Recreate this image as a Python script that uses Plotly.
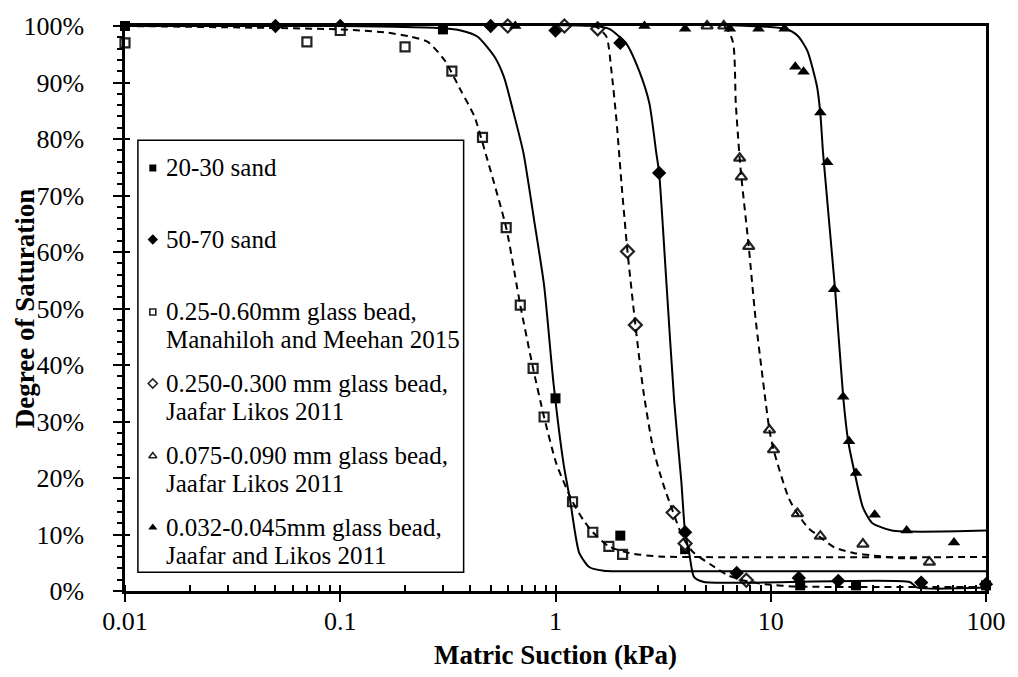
import plotly.graph_objects as go

# ---------------- measured data (suction in kPa, saturation in %) ----------------
sand_20_30_x = [0.01, 0.3, 1.0, 2.0, 4.0, 13.7, 24.9, 100]
sand_20_30_y = [100, 99.4, 34.1, 9.8, 7.4, 1.0, 1.0, 1.0]

sand_50_70_x = [0.05, 0.1, 0.5, 1.0, 2.0, 3.03, 4.0, 6.95, 13.5, 20.6, 50, 100]
sand_50_70_y = [100, 100, 100, 99.2, 97, 74, 10.4, 3.2, 2.3, 1.8, 1.5, 1.2]

gb_025_060_x = [0.01, 0.07, 0.1, 0.2, 0.33, 0.458, 0.59, 0.686, 0.787, 0.885, 1.2, 1.49, 1.77, 2.05]
gb_025_060_y = [97, 97.2, 99.2, 96.3, 92, 80.3, 64.3, 50.6, 39.4, 30.8, 15.8, 10.4, 7.9, 6.5]

gb_0250_0300_x = [0.6, 1.1, 1.57, 2.16, 2.35, 3.52, 4.0, 7.7]
gb_0250_0300_y = [100, 100, 99.5, 60.1, 47.1, 13.9, 8.4, 1.9]

gb_0075_0090_x = [5.06, 6.05, 7.17, 7.3, 7.9, 9.86, 10.3, 13.3, 17, 26.8, 54.6]
gb_0075_0090_y = [100, 100, 76.6, 73.3, 61, 28.5, 25, 13.7, 9.7, 8.3, 5.1]

gb_0032_0045_x = [0.65, 2.59, 4.0, 6.46, 8.77, 11.6, 13.0, 14.2, 17.0, 18.3, 19.7, 21.7, 23.1, 24.9, 30.4, 42.8, 71]
gb_0032_0045_y = [100, 100, 99.5, 99.5, 99.5, 99.5, 92.8, 91.9, 84.7, 75.9, 53.4, 34.4, 26.5, 20.9, 13.5, 10.7, 8.6]

# ---------------- fitted retention curves ----------------
fit_20_30_x = [0.01, 0.1, 0.3, 0.363, 0.435, 0.52, 0.576, 0.64, 0.71, 0.795, 0.885, 0.98,
               1.09, 1.17, 1.29, 1.44, 1.67, 2.5, 100]
fit_20_30_y = [100, 100, 99.6, 99.2, 98.1, 94.6, 91, 84.5, 77.5, 65.7, 54.1, 36.6,
               22.5, 16, 6.7, 4.2, 3.6, 3.5, 3.5]

fit_025_060_x = [0.01, 0.1, 0.167, 0.213, 0.255, 0.306, 0.363, 0.42, 0.473, 0.59, 0.686, 0.787,
                 0.885, 1.01, 1.2, 1.35, 1.49, 1.77, 2.21, 3.03, 5, 100]
fit_025_060_y = [100, 99.4, 98.8, 98.1, 97.2, 93.9, 88.6, 84, 77.5, 64.3, 50.6, 39.4,
                 30.8, 22.5, 15.8, 12.5, 10.4, 7.9, 6.7, 6.1, 6.0, 6.0]

fit_50_70_x = [0.01, 1.5, 1.78, 2.14, 2.45, 2.73, 2.94, 3.03, 3.27, 3.56, 3.84, 4.0, 4.18,
               4.4, 4.9, 44.2, 48, 100]
fit_50_70_y = [100, 100, 99.5, 96.8, 92, 86.3, 77.5, 74, 55, 33.6, 19.5, 10.4, 6.7,
               2.5, 1.6, 1.6, 0.6, 0.6]

fit_0250_0300_x = [0.01, 1.5, 1.6, 1.73, 1.82, 1.92, 2.03, 2.16, 2.35, 2.56, 2.84, 3.16, 3.5,
                   3.9, 4.35, 5.3, 6.3, 7.6, 9.4, 13, 100]
fit_0250_0300_y = [100, 100, 99.5, 98, 92, 83.3, 71.7, 60.1, 47.1, 35.4, 25.3, 19, 14.2,
                   9.5, 6.9, 4.6, 2.8, 1.8, 1.2, 0.8, 0.7]

fit_0075_0090_x = [0.01, 6.05, 6.67, 6.88, 7.17, 7.3, 7.9, 8.5, 9.46, 9.86, 10.3, 12.1, 13.3,
                   14.9, 17, 19.8, 24.5, 29.5, 40.6, 50]
fit_0075_0090_y = [100, 100, 97.2, 86.3, 76.6, 73.3, 61, 48.2, 33.6, 28.5, 25, 16.5, 13.7,
                   11.2, 9.5, 7.7, 6.7, 6.3, 5.8, 5.8]

fit_0032_0045_x = [0.01, 11.7, 13.4, 14.8, 16.4, 17, 17.5, 19.9, 21.7, 22.9, 24.6, 26.8,
                   29.5, 36.5, 100]
fit_0032_0045_y = [100, 99.5, 98.2, 95.6, 89.3, 84.5, 77.5, 53.4, 34.4, 26.5, 20.7, 14.8,
                   12.1, 10.7, 10.7]

legend_lines = [
    ["20-30 sand"],
    ["50-70 sand"],
    ["0.25-0.60mm glass bead,", "Manahiloh and Meehan 2015"],
    ["0.250-0.300 mm glass bead,", "Jaafar Likos 2011"],
    ["0.075-0.090 mm glass bead,", "Jaafar Likos 2011"],
    ["0.032-0.045mm glass bead,", "Jaafar and Likos 2011"],
]

y_ticks = list(range(0, 101, 10))
y_tick_text = [f"{v}%" for v in y_ticks]

# ---------------- styling ----------------
FONT = "Liberation Serif"
INK = "black"
W, H = 1018, 677
ML, MR, MT, MB = 125, 26, 22, 86
PW, PH = W - ML - MR, H - MT - MB

filled = dict(color=INK, line=dict(width=0))
hollow = dict(color="white", line=dict(color="#222", width=2.2))

series = [
    (sand_20_30_x, sand_20_30_y, "square", 10, filled, 7),
    (sand_50_70_x, sand_50_70_y, "diamond", 11, filled, 8),
    (gb_025_060_x, gb_025_060_y, "square", 9, hollow, 6),
    (gb_0250_0300_x, gb_0250_0300_y, "diamond", 10, hollow, 7),
    (gb_0075_0090_x, gb_0075_0090_y, "triangle-up", 10, hollow, 7),
    (gb_0032_0045_x, gb_0032_0045_y, "triangle-up", 11, filled, 8),
]

fits = [
    (fit_20_30_x, fit_20_30_y, "solid"),
    (fit_025_060_x, fit_025_060_y, "dash"),
    (fit_50_70_x, fit_50_70_y, "solid"),
    (fit_0250_0300_x, fit_0250_0300_y, "dash"),
    (fit_0075_0090_x, fit_0075_0090_y, "dash"),
    (fit_0032_0045_x, fit_0032_0045_y, "solid"),
]

fig = go.Figure()

for xs, ys, sym, size, style, _ in series:
    fig.add_trace(go.Scatter(
        x=xs, y=ys, mode="markers", cliponaxis=False, showlegend=False,
        marker=dict(symbol=sym, size=size, **style),
    ))

for xs, ys, dash in fits:
    fig.add_trace(go.Scatter(
        x=xs, y=ys, mode="lines", cliponaxis=False, showlegend=False,
        line=dict(color=INK, width=2, dash="7px,5px" if dash == "dash" else "solid",
                  shape="spline", smoothing=0.6),
    ))

# companion axes carrying the inward half of the major ticks
fig.add_trace(go.Scatter(x=[], y=[], xaxis="x2", yaxis="y2", showlegend=False))

# ---------------- legend box (pixel layout) ----------------
box_l, box_t, box_r, box_b = 138, 137, 466, 572
first_line_y = [165, 237, 310, 382, 455, 527]
line_gap = 28
mark_px, text_px = 153, 164


def px_x(p):
    return (p - ML) / PW


def px_y(p):
    return (MT + PH - p) / PH


fig.add_shape(type="rect", xref="paper", yref="paper", layer="below",
              x0=px_x(box_l), x1=px_x(box_r), y0=px_y(box_b), y1=px_y(box_t),
              line=dict(color=INK, width=1.5), fillcolor="white")

annotations = []
for (_, _, sym, _, style, lsize), lines, y0 in zip(series, legend_lines, first_line_y):
    fig.add_trace(go.Scatter(
        x=[mark_px], y=[y0], xaxis="x3", yaxis="y3", mode="markers", showlegend=False,
        cliponaxis=False,
        marker=dict(symbol=sym, size=lsize,
                    color=style["color"],
                    line=dict(color=style["line"].get("color", INK),
                              width=1.6 if style is hollow else 0)),
    ))
    for i, txt in enumerate(lines):
        annotations.append(dict(
            text=txt, xref="paper", yref="paper", x=px_x(text_px), y=px_y(y0 + i * line_gap),
            xanchor="left", yanchor="middle", showarrow=False,
            font=dict(family=FONT, size=25, color=INK),
        ))

annotations.append(dict(
    text="<b>Matric Suction (kPa)</b>", xref="paper", yref="paper",
    x=0.5, y=px_y(655), xanchor="center", yanchor="middle", showarrow=False,
    font=dict(family=FONT, size=27, color=INK),
))
annotations.append(dict(
    text="<b>Degree of Saturation</b>", xref="paper", yref="paper",
    x=px_x(24), y=0.5, xanchor="center", yanchor="middle", showarrow=False,
    textangle=-90, font=dict(family=FONT, size=27, color=INK),
))

tick_font = dict(family=FONT, size=26, color=INK)

fig.update_layout(
    width=W, height=H,
    margin=dict(l=ML, r=MR, t=MT, b=MB, pad=0),
    paper_bgcolor="white", plot_bgcolor="white",
    showlegend=False,
    annotations=annotations,
    xaxis=dict(
        type="log", range=[-2, 2], dtick=1, showgrid=False, zeroline=False,
        showline=True, linecolor=INK, linewidth=2.5, mirror=True,
        ticks="outside", ticklen=8, tickwidth=2, tickcolor=INK,
        minor=dict(ticks="inside", ticklen=6, tickwidth=1.5, tickcolor=INK, dtick="D1", showgrid=False),
        tickfont=tick_font, ticklabelstandoff=-3,
    ),
    yaxis=dict(
        range=[0, 100], tickvals=y_ticks, ticktext=y_tick_text, showgrid=False, zeroline=False,
        showline=True, linecolor=INK, linewidth=2.5, mirror=True,
        ticks="outside", ticklen=9, tickwidth=2, tickcolor=INK,
        minor=dict(ticks="outside", ticklen=5, tickwidth=1.5, tickcolor=INK, dtick=2, showgrid=False),
        tickfont=tick_font, ticklabelstandoff=24,
    ),
    xaxis2=dict(
        type="log", range=[-2, 2], dtick=1, overlaying="x", anchor="y2", side="bottom",
        showgrid=False, zeroline=False, showline=False, showticklabels=False,
        ticks="inside", ticklen=5, tickwidth=2, tickcolor=INK,
    ),
    yaxis2=dict(
        range=[0, 100], tickvals=y_ticks, overlaying="y", anchor="x2", side="left",
        showgrid=False, zeroline=False, showline=False, showticklabels=False,
        ticks="inside", ticklen=5, tickwidth=2, tickcolor=INK,
    ),
    xaxis3=dict(range=[ML, ML + PW], overlaying="x", anchor="y3", visible=False),
    yaxis3=dict(range=[MT + PH, MT], overlaying="y", anchor="x3", visible=False),
)

fig.write_html("out.html")
